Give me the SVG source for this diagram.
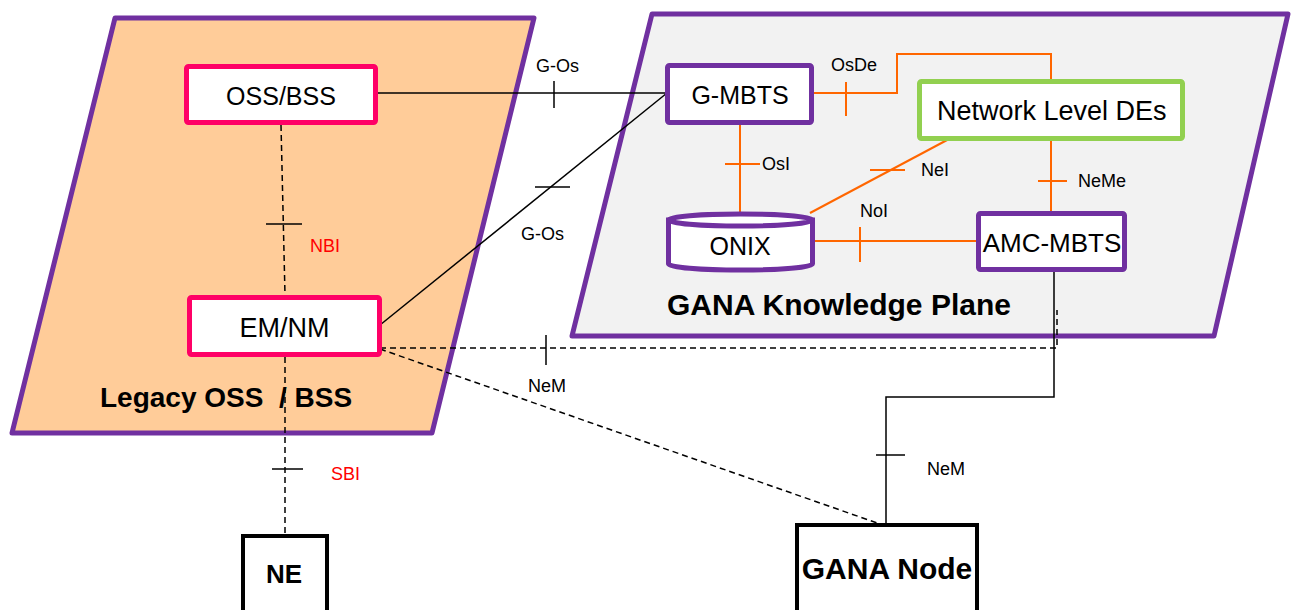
<svg xmlns="http://www.w3.org/2000/svg" width="1291" height="610" viewBox="0 0 1291 610">
<style>
.plane{stroke:#7030A0;stroke-width:5;stroke-linejoin:round}
.pink{fill:#fff;stroke:#FF0066;stroke-width:5}
.purp{fill:#fff;stroke:#7030A0;stroke-width:5}
.green{fill:#fff;stroke:#92D050;stroke-width:5}
.blk{fill:#fff;stroke:#000;stroke-width:4}
.t{font-family:"Liberation Sans",Arial,sans-serif;fill:#000}
.b{font-family:"Liberation Sans",Arial,sans-serif;font-weight:bold;fill:#000;white-space:pre}
.lbl{font-family:"Liberation Sans",Arial,sans-serif;font-size:18px;fill:#000}
.red{fill:#FF0000}
.s{fill:none;stroke:#000;stroke-width:1.5}
.d{fill:none;stroke:#000;stroke-width:1.5;stroke-dasharray:6 4}
.o{fill:none;stroke:#FF6600;stroke-width:2}
</style>
<rect width="1291" height="610" fill="#fff"/>
<g id="legacy-plane">
<polygon class="plane" points="115,18 534,18 432,433 12,433" fill="#FFCC99"/>
<text class="b" x="100" y="407" font-size="28">Legacy OSS  / BSS</text>
</g>
<g id="gana-plane">
<polygon class="plane" points="652,14 1288,14 1214,336 572,336" fill="#F2F2F2"/>
<text class="b" x="667" y="315" font-size="30">GANA Knowledge Plane</text>
</g>
<g id="connectors">
<polyline class="s" points="377,93 667,93"/>
<line class="s" x1="554" y1="81" x2="554" y2="108"/>
<text class="lbl" x="536" y="72">G-Os</text>
<line class="s" x1="380" y1="325" x2="667" y2="93"/>
<line class="s" x1="535" y1="187" x2="570" y2="187"/>
<text class="lbl" x="521" y="240">G-Os</text>
<line class="d" x1="281" y1="125" x2="285" y2="295"/>
<line class="s" x1="266" y1="224" x2="302" y2="224"/>
<text class="lbl red" x="310" y="252">NBI</text>
<line class="d" x1="285" y1="357" x2="285" y2="533"/>
<line class="s" x1="272" y1="469" x2="303" y2="469"/>
<text class="lbl red" x="331" y="480">SBI</text>
<polyline class="d" points="380,348 1057,348 1057,310"/>
<line class="s" x1="546" y1="335" x2="546" y2="365"/>
<text class="lbl" x="528" y="392">NeM</text>
<line class="d" x1="380" y1="349" x2="880" y2="524"/>
<polyline class="s" points="1054,272 1054,397 886,397 886,524"/>
<line class="s" x1="876" y1="455" x2="905" y2="455"/>
<text class="lbl" x="927" y="475">NeM</text>
<polyline class="o" points="814,93 897,93 897,54 1051,54 1051,79"/>
<line class="o" x1="846" y1="82" x2="846" y2="116"/>
<text class="lbl" x="831" y="71">OsDe</text>
<line class="o" x1="740" y1="125" x2="740" y2="213"/>
<line class="o" x1="725" y1="164" x2="760" y2="164"/>
<text class="lbl" x="762" y="170">OsI</text>
<line class="o" x1="949" y1="139" x2="810" y2="213"/>
<line class="o" x1="870" y1="170" x2="905" y2="170"/>
<text class="lbl" x="921" y="176">NeI</text>
<line class="o" x1="1051" y1="141" x2="1051" y2="211"/>
<line class="o" x1="1038" y1="181" x2="1067" y2="181"/>
<text class="lbl" x="1078" y="187">NeMe</text>
<line class="o" x1="812" y1="241" x2="977" y2="241"/>
<line class="o" x1="860" y1="227" x2="860" y2="262"/>
<text class="lbl" x="860" y="217">NoI</text>
</g>
<g id="oss-bss">
<rect class="pink" x="186.5" y="66.5" width="189" height="56" rx="2"/>
<text class="t" x="281" y="105" font-size="25" text-anchor="middle">OSS/BSS</text>
</g>
<g id="em-nm">
<rect class="pink" x="189.5" y="297.5" width="190" height="57" rx="2"/>
<text class="t" x="284.5" y="337" font-size="27" text-anchor="middle">EM/NM</text>
</g>
<g id="g-mbts">
<rect class="purp" x="667.5" y="65.5" width="144" height="57" rx="2"/>
<text class="t" x="740" y="104" font-size="25" text-anchor="middle">G-MBTS</text>
</g>
<g id="network-level-des">
<rect class="green" x="919.5" y="81.5" width="263" height="57" rx="2"/>
<text class="t" x="937" y="120" font-size="27">Network Level DEs</text>
</g>
<g id="onix">
<path class="purp" d="M668.5,220 V264 A72,6 0 0 0 812.5,264 V220 Z"/>
<ellipse class="purp" cx="740.5" cy="220" rx="72" ry="6"/>
<text class="t" x="740" y="255" font-size="25" text-anchor="middle">ONIX</text>
</g>
<g id="amc-mbts">
<rect class="purp" x="978.5" y="213.5" width="146" height="56" rx="2"/>
<text class="t" x="1052" y="252" font-size="26" text-anchor="middle">AMC-MBTS</text>
</g>
<g id="ne">
<rect class="blk" x="243" y="536" width="84" height="90"/>
<text class="b" x="284" y="583" font-size="26" text-anchor="middle">NE</text>
</g>
<g id="gana-node">
<rect class="blk" x="797" y="525" width="180" height="100"/>
<text class="b" x="887" y="579" font-size="30" text-anchor="middle">GANA Node</text>
</g>
</svg>
